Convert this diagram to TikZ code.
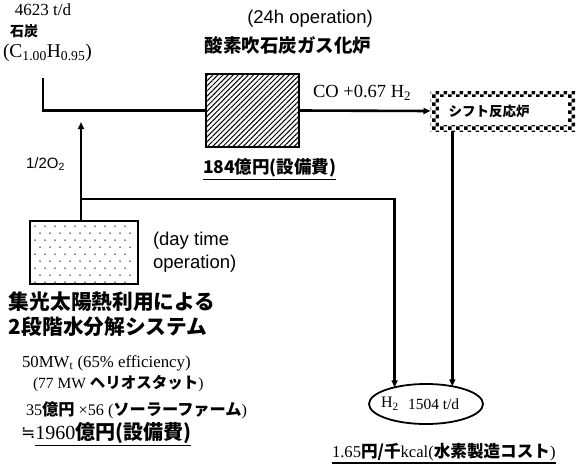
\documentclass[tikz,border=0pt]{standalone}
\usepackage{fontspec}
\setmainfont{Liberation Serif}
\newfontfamily\jp{Noto Sans CJK JP}
\newfontfamily\ar{Liberation Sans}
\newfontfamily\djvsym{DejaVu Sans}
\usetikzlibrary{patterns,patterns.meta,arrows.meta,shapes.geometric}
\tikzdeclarepattern{
  name=bigcheck,
  tile size={(8pt,8pt)},
  bounding box={(0pt,0pt) and (8pt,8pt)},
  code={\fill (0pt,0pt) rectangle (4pt,4pt); \fill (4pt,4pt) rectangle (8pt,8pt);}
}
\newcommand{\fs}[1]{\fontsize{#1}{#1}\selectfont}
\newcommand{\jb}{\jp\bfseries}
\tikzset{
  every node/.style={inner sep=0pt, outer sep=0pt},
  conn/.style={line width=2.6pt},
  arr/.style={conn, -{Triangle[length=7pt,width=6pt]}},
  txt/.style={anchor=west, text=black},
  ul/.style={line width=1.5pt},
  gasbox/.style={draw, line width=1.8pt, pattern={Lines[angle=45,distance=3.6pt,line width=1pt]}, minimum width=93, minimum height=73},
  solarbox/.style={draw, line width=1.8pt, minimum width=108, minimum height=63},
  checkbox/.style={pattern=bigcheck, minimum width=145, minimum height=40},
  innerbox/.style={fill=white, minimum width=129, minimum height=28},
  prodell/.style={ellipse, draw, line width=1.8pt, minimum width=114, minimum height=40}
}
\begin{document}
\begin{tikzpicture}[x=1pt,y=-1pt]
\useasboundingbox (0,0) rectangle (576,466);
% coal
\node[txt] (tcoal) at (15,10) {\fs{17}4623 t/d};
\node[txt] (tsekitan) at (10,31) {\fs{14}\jb 石炭};
\node[txt] (tformula) at (3,53) {\fs{19.5}(C\textsubscript{1.00}H\textsubscript{0.95})};
\coordinate (coal) at (43,78);
% gasifier
\node[txt, anchor=center] (t24) at (310,19) {\fs{18.5}\ar (24h operation)};
\node[txt, anchor=center] (tgasname) at (288,45) {\fs{18.5}\jb 酸素吹石炭ガス化炉};
\node[gasbox] (gas) at (252.5,110.5) {};
\node[txt] (tgascost) at (203,168) {\fs{17.5}\jb 184億円(設備費)};
\draw[ul] ([yshift=-2pt]tgascost.south west) -- ([yshift=-2pt]tgascost.south east);
% shift reactor
\node[checkbox] (shift) at (503,111) {};
\node[innerbox] (shiftin) at (shift) {};
\node[anchor=center] (tshift) at (489,111) {\fs{13.5}\jb シフト反応炉};
\node[txt] (tco) at (313,93) {\fs{18.5}CO +0.67 H\textsubscript{2}};
% solar
\node[solarbox] (solar) at (84,252.5) {};
\foreach \r in {0,...,8}{\foreach \c in {0,...,9}{\fill ({35+10*\c+5*mod(\r,2)},{226+7*\r}) circle[radius=0.75pt];}}
\coordinate (o2top) at (81,122);
\coordinate (junc) at (81,199);
\node[txt] (to2) at (26,164) {\fs{15}\ar 1/2O\textsubscript{2}};
\node[txt] (tday1) at (153,241) {\fs{18.5}\ar (day time};
\node[txt] (tday2) at (153,264) {\fs{18.5}\ar operation)};
\node[txt] (tsol1) at (9,302) {\fs{20.7}\jb 集光太陽熱利用による};
\node[txt] (tsol2) at (9,327) {\fs{20.7}\jb 2段階水分解システム};
\node[txt] (tmw) at (22,363) {\fs{16.8}50MW\textsubscript{t} (65\% efficiency)};
\node[txt] (thel) at (33,384) {\fs{15.5}(77 MW {\jb ヘリオスタット})};
\node[txt] (tfarm) at (26,410) {\fs{16.2}35{\jb 億円} ×56 ({\jb ソーラーファーム})};
\node[txt] (tapprox) at (21,433) {\fs{17}\djvsym ≒};
\node[txt] (tsolcost) at (tapprox.east) {\fs{20}1960{\jb 億円(設備費)}};
\draw[ul] ([yshift=-2pt]tsolcost.south west) -- ([yshift=-2pt]tsolcost.south east);
% product
\node[prodell] (ell) at (426,404) {};
\node[txt] (th2) at (381,404) {\fs{16}H\textsubscript{2}};
\node[txt] (tprod) at (408,404) {\fs{15.5}1504 t/d};
\node[txt] (tcost) at (332,452) {\fs{16.6}1.65{\jb 円/千}kcal({\jb 水素製造コスト})};
\draw[ul] ([yshift=-2pt]tcost.south west) -- ([yshift=-2pt]tcost.south east);
% connectors
\draw[conn] (coal) |- (gas.west);
\draw[arr] (gas.east) -- (shift.west);
\draw[arr] (solar.north -| o2top) -- (o2top);
\draw[arr] (junc) -| (ell.152);
\draw[arr] (shift.south -| ell.34) -- (ell.34);
\end{tikzpicture}
\end{document}
